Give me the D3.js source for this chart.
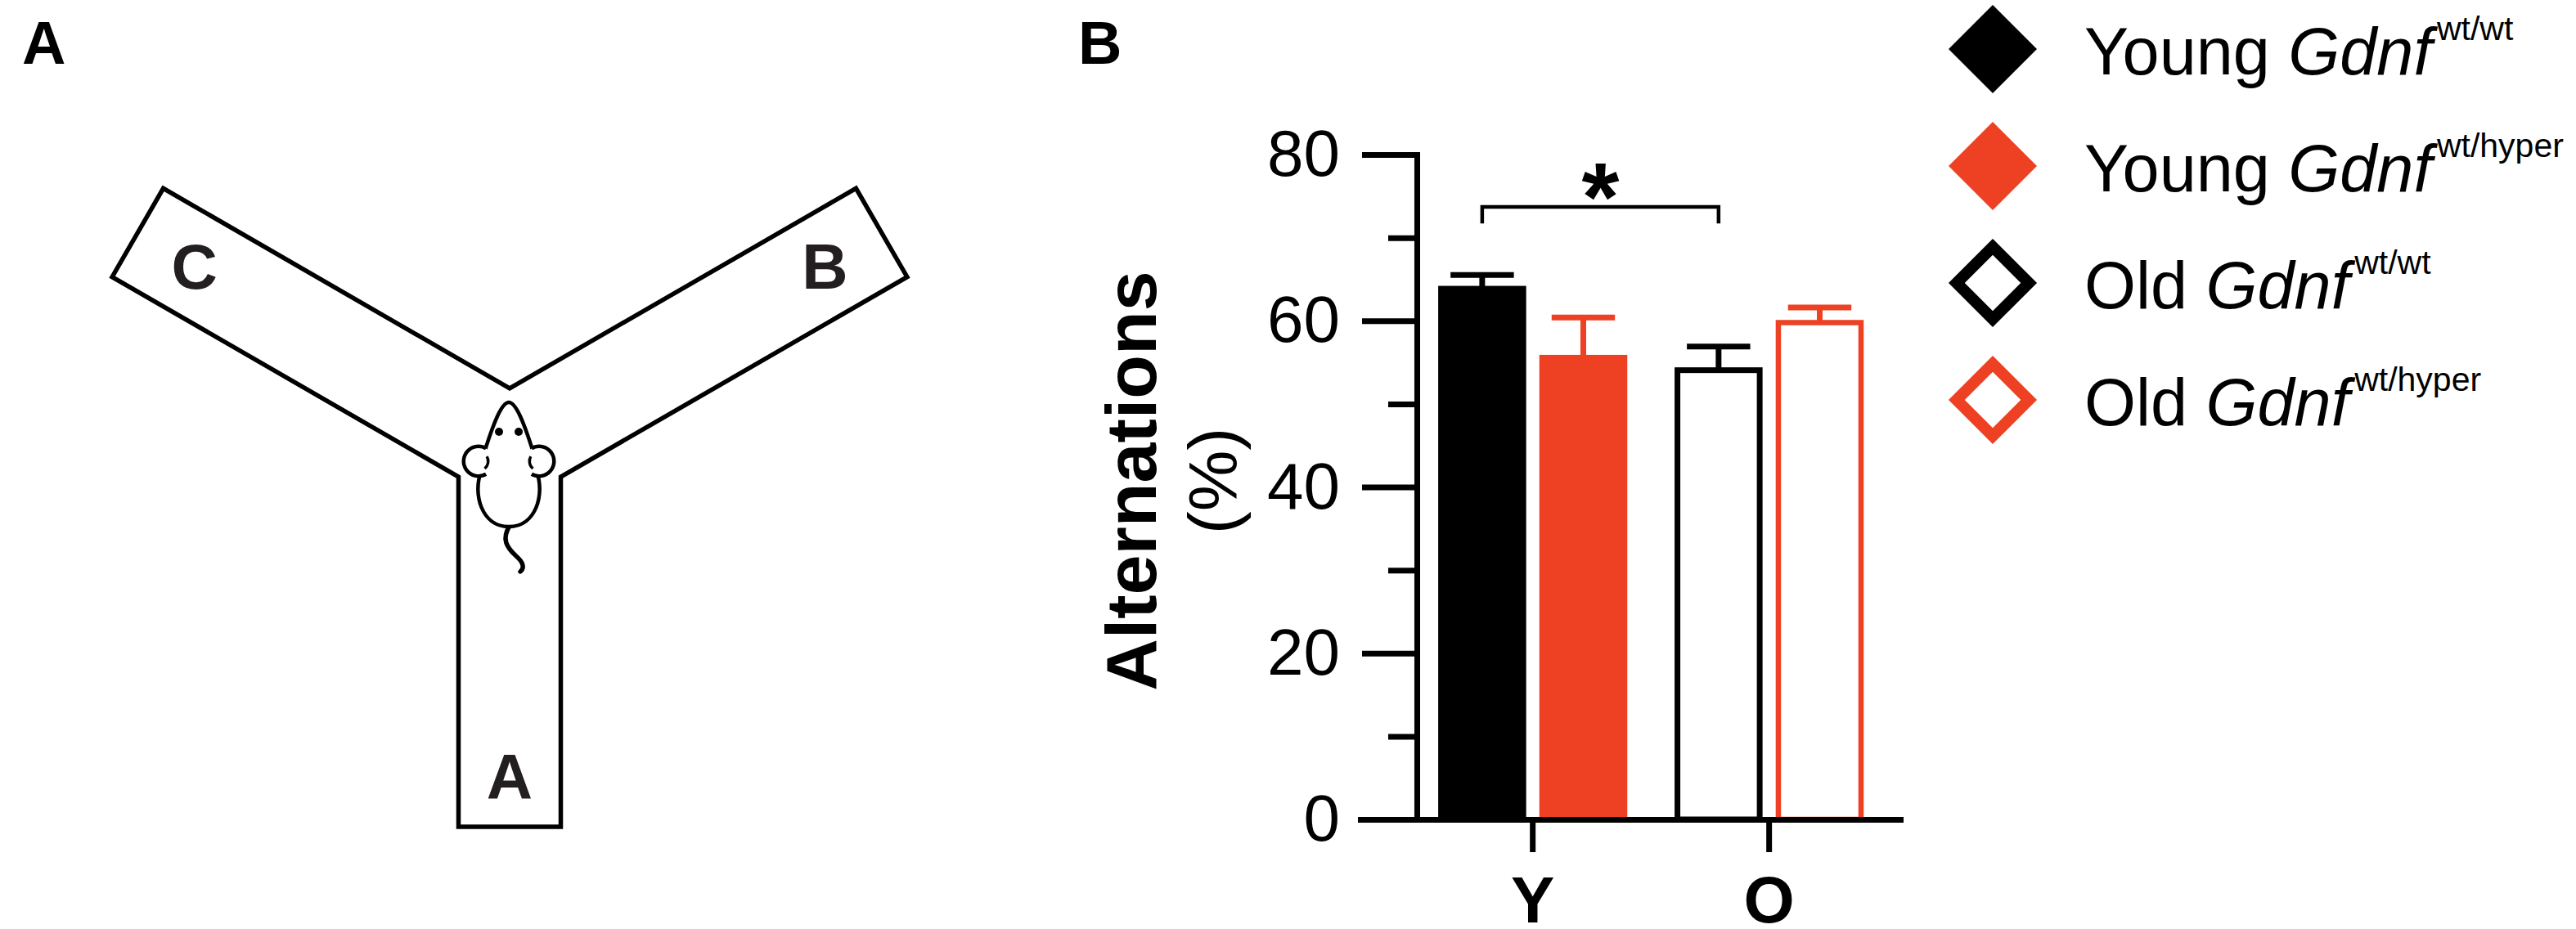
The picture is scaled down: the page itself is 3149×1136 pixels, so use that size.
<!DOCTYPE html>
<html>
<head>
<meta charset="utf-8">
<script src="https://cdn.jsdelivr.net/npm/d3@7"></script>
<style>
  body { margin: 0; background: #fff; }
  text { font-family: "Liberation Sans", Arial, Helvetica, sans-serif; }
</style>
</head>
<body>
<script>
// values (mean and SEM, % alternations)
var groups = ["Y", "O"];
var genotypes = ["wt/wt", "wt/hyper"];
var youngMean = [64.2, 55.9];
var youngSem = [1.3, 4.5];
var oldMean = [54.4, 60.1];
var oldSem = [2.5, 1.5];

var legendAge = ["Young", "Young", "Old", "Old"];
var legendGene = ["Gdnf", "Gdnf", "Gdnf", "Gdnf"];
var legendSup = ["wt/wt", "wt/hyper", "wt/wt", "wt/hyper"];

var majorTicks = [0, 20, 40, 60, 80];
var minorTicks = [10, 30, 50, 70];
var armNames = ["A", "B", "C"];

var red = "#ee4123",
    ink = "#231f20";

var W = 3149, H = 1136;

var svg = d3.select("body")
            .append("svg")
            .attr("width", W)
            .attr("height", H);

// ---------- panel letters ----------
svg.append("text").attr("x", 27).attr("y", 78)
   .style("font-size", "74px").style("font-weight", "bold").text("A");
svg.append("text").attr("x", 1318).attr("y", 78)
   .style("font-size", "74px").style("font-weight", "bold").text("B");

// ---------- panel A: Y maze ----------
var maze = { cx: 623, cy: 547, w: 125, arm: 525, stem: 464 };
var half = maze.w / 2,
    d = half / Math.sin(Math.PI / 3),
    rad = Math.PI / 180;

function armEnd(angle) {
    var ux = Math.cos(angle * rad), uy = -Math.sin(angle * rad);
    var ex = maze.cx + maze.arm * ux, ey = maze.cy + maze.arm * uy;
    var nx = uy, ny = -ux;
    return { a: [ex + half * nx, ey + half * ny], b: [ex - half * nx, ey - half * ny] };
}
var armB = armEnd(30), armC = armEnd(150);

var p = d3.path();
p.moveTo(maze.cx, maze.cy - d);
p.lineTo(armB.a[0], armB.a[1]);
p.lineTo(armB.b[0], armB.b[1]);
p.lineTo(maze.cx + d * Math.cos(30 * rad), maze.cy + d * 0.5);
p.lineTo(maze.cx + half, maze.cy + maze.stem);
p.lineTo(maze.cx - half, maze.cy + maze.stem);
p.lineTo(maze.cx - d * Math.cos(30 * rad), maze.cy + d * 0.5);
p.lineTo(armC.a[0], armC.a[1]);
p.lineTo(armC.b[0], armC.b[1]);
p.closePath();

svg.append("path")
   .attr("d", p.toString())
   .attr("fill", "#fff")
   .attr("stroke", "#000")
   .attr("stroke-width", 5.5)
   .attr("stroke-linejoin", "miter");

// arm labels sit along each arm's centre line
var armAngle = { A: -90, B: 30, C: 150 },
    armDist = { A: 402, B: 445, C: 445 };
svg.selectAll("text.arm")
   .data(armNames)
   .enter()
   .append("text")
   .attr("class", "arm")
   .attr("x", function(n){ return maze.cx + armDist[n] * Math.cos(armAngle[n] * rad); })
   .attr("y", function(n){ return maze.cy - armDist[n] * Math.sin(armAngle[n] * rad); })
   .attr("dy", "0.36em")
   .attr("text-anchor", "middle")
   .attr("fill", ink)
   .style("font-size", "78px")
   .style("font-weight", "bold")
   .text(function(n){ return n; });

// mouse
var mouse = svg.append("g").attr("transform", "translate(622,565)");
mouse.append("path")
     .attr("d", "M1,78 C-9,94 -3,104 9,115 C17,122 20,129 14,134")
     .attr("fill", "none").attr("stroke", "#000")
     .attr("stroke-width", 5.5).attr("stroke-linecap", "round");
mouse.append("path")
     .attr("d", "M0,-73 C-9,-73 -19,-46 -28,-18 L-34,12 C-44,38 -34,79 0,79 C34,79 44,38 34,12 L28,-18 C19,-46 9,-73 0,-73 Z")
     .attr("fill", "#fff").attr("stroke", "#000").attr("stroke-width", 4.5);
[-1, 1].forEach(function(s){
    mouse.append("circle").attr("cx", 37 * s).attr("cy", -1).attr("r", 18).attr("fill", "#fff");
    var outer = d3.arc().innerRadius(16).outerRadius(20.5);
    var inner = d3.arc().innerRadius(10).outerRadius(13.5);
    mouse.append("path")
         .attr("transform", "translate(" + (37 * s) + ",-1)")
         .attr("d", s < 0 ? outer({ startAngle: 150 * rad, endAngle: 390 * rad })
                          : outer({ startAngle: -30 * rad, endAngle: 210 * rad }))
         .attr("fill", "#000");
    mouse.append("path")
         .attr("transform", "translate(" + (37 * s) + ",-1)")
         .attr("d", s < 0 ? inner({ startAngle: 60 * rad, endAngle: 140 * rad })
                          : inner({ startAngle: 220 * rad, endAngle: 300 * rad }))
         .attr("fill", "#000");
    mouse.append("circle").attr("cx", 12 * s).attr("cy", -37).attr("r", 5).attr("fill", "#000");
});

// ---------- panel B: bar chart ----------
var bars = [];
groups.forEach(function(g, gi){
    genotypes.forEach(function(gt, ti){
        bars.push({
            group: g,
            geno: gt,
            mean: gi === 0 ? youngMean[ti] : oldMean[ti],
            sem: gi === 0 ? youngSem[ti] : oldSem[ti],
            filled: gi === 0,
            color: ti === 0 ? "#000" : red
        });
    });
});

var axisX = 1732;

var yScale = d3.scaleLinear()
               .domain([0, 80])
               .range([1002, 189]);

var xGroup = d3.scaleBand()
               .domain(groups)
               .range([1663, 2323])
               .paddingInner(0.2)
               .paddingOuter(0.242)
               .align(0.68);

var xGeno = d3.scaleBand()
              .domain(genotypes)
              .range([0, xGroup.bandwidth()])
              .paddingInner(0.13);

function barX(b) { return xGroup(b.group) + xGeno(b.geno); }
function barMid(b) { return barX(b) + xGeno.bandwidth() / 2; }
function sw(b) { return b.color === red ? 6.5 : 7; }

// bars
svg.selectAll("rect.bar")
   .data(bars)
   .enter()
   .append("rect")
   .attr("class", "bar")
   .attr("x", function(b){ return b.filled ? barX(b) : barX(b) + sw(b) / 2; })
   .attr("y", function(b){ return b.filled ? yScale(b.mean) : yScale(b.mean) + sw(b) / 2; })
   .attr("width", function(b){ return b.filled ? xGeno.bandwidth() : xGeno.bandwidth() - sw(b); })
   .attr("height", function(b){ return yScale(0) - yScale(b.mean) - (b.filled ? 0 : sw(b) / 2); })
   .attr("fill", function(b){ return b.filled ? b.color : "#fff"; })
   .attr("stroke", function(b){ return b.filled ? "none" : b.color; })
   .attr("stroke-width", function(b){ return sw(b); });

// error bars (mean + SEM)
var err = svg.selectAll("g.err")
             .data(bars)
             .enter()
             .append("g")
             .attr("class", "err")
             .attr("stroke", function(b){ return b.color; })
             .attr("stroke-width", 7);

err.append("line")
   .attr("x1", barMid).attr("x2", barMid)
   .attr("y1", function(b){ return yScale(b.mean) + 2; })
   .attr("y2", function(b){ return yScale(b.mean + b.sem); });

err.append("line")
   .attr("x1", function(b){ return barMid(b) - xGeno.bandwidth() * 0.36; })
   .attr("x2", function(b){ return barMid(b) + xGeno.bandwidth() * 0.36; })
   .attr("y1", function(b){ return yScale(b.mean + b.sem); })
   .attr("y2", function(b){ return yScale(b.mean + b.sem); });

// y axis
var yAxis = svg.append("g")
               .attr("transform", "translate(" + axisX + ",0)")
               .call(d3.axisLeft(yScale).tickValues(majorTicks).tickSize(67).tickSizeOuter(0).tickPadding(27));
yAxis.select(".domain").attr("stroke-width", 7).attr("stroke-linecap", "square");
yAxis.selectAll(".tick line").attr("stroke-width", 7);
yAxis.selectAll(".tick text")
     .attr("fill", "#000")
     .style("font-size", "80px")
     .style("font-family", "'Liberation Sans', Arial, sans-serif");

var yMinor = svg.append("g")
                .attr("transform", "translate(" + axisX + ",0)")
                .call(d3.axisLeft(yScale).tickValues(minorTicks).tickSize(35).tickFormat(""));
yMinor.select(".domain").remove();
yMinor.selectAll(".tick line").attr("stroke-width", 7);

// x axis
var xAxis = svg.append("g")
               .attr("transform", "translate(0," + yScale(0) + ")")
               .call(d3.axisBottom(xGroup).tickSize(40).tickSizeOuter(0).tickPadding(29));
xAxis.select(".domain").attr("stroke-width", 7).attr("stroke-linecap", "square");
xAxis.selectAll(".tick line").attr("stroke-width", 7);
xAxis.selectAll(".tick text")
     .attr("fill", "#000")
     .style("font-size", "80px")
     .style("font-weight", "bold")
     .style("font-family", "'Liberation Sans', Arial, sans-serif");

// axis title
svg.append("text")
   .attr("transform", "translate(1413," + 588 + ") rotate(-90)")
   .attr("text-anchor", "middle")
   .style("font-size", "88px")
   .style("font-weight", "bold")
   .text("Alternations");
svg.append("text")
   .attr("transform", "translate(1512," + 588 + ") rotate(-90)")
   .attr("text-anchor", "middle")
   .style("font-size", "84px")
   .text("(%)");

// significance bracket: young wt/wt vs old wt/wt
var bFrom = bars[0], bTo = bars[2];
var sigLevel = 73.7, sigLeg = 2;
svg.append("path")
   .attr("d", "M" + barMid(bFrom) + "," + yScale(sigLevel - sigLeg) +
              "V" + yScale(sigLevel) + "H" + barMid(bTo) + "V" + yScale(sigLevel - sigLeg))
   .attr("fill", "none")
   .attr("stroke", "#000")
   .attr("stroke-width", 4.5);
svg.append("text")
   .attr("x", (barMid(bFrom) + barMid(bTo)) / 2)
   .attr("y", yScale(sigLevel) + 29)
   .attr("text-anchor", "middle")
   .style("font-size", "118px")
   .style("font-weight", "bold")
   .text("*");

// ---------- legend ----------
var legend = svg.selectAll("g.legend")
                .data(legendAge)
                .enter()
                .append("g")
                .attr("class", "legend")
                .attr("transform", function(a, i){ return "translate(2436," + (60 + i * 143) + ")"; });

legend.append("path")
      .attr("transform", "rotate(45)")
      .attr("d", function(a, i){
          var s = i < 2 ? 76.4 : 62.4;
          return d3.symbol().type(d3.symbolSquare).size(s * s)();
      })
      .attr("fill", function(a, i){ return i < 2 ? (i === 0 ? "#000" : red) : "#fff"; })
      .attr("stroke", function(a, i){ return i < 2 ? "none" : (i === 2 ? "#000" : red); })
      .attr("stroke-width", 14);

var lt = legend.append("text")
               .attr("x", 112)
               .attr("y", 31)
               .style("font-size", "81px");
lt.append("tspan").text(function(a){ return a + " "; });
lt.append("tspan").style("font-style", "italic").text(function(a, i){ return legendGene[i]; });
lt.append("tspan")
  .attr("dx", 6)
  .attr("dy", -42)
  .style("font-size", "41px")
  .text(function(a, i){ return legendSup[i]; });
</script>
</body>
</html>
